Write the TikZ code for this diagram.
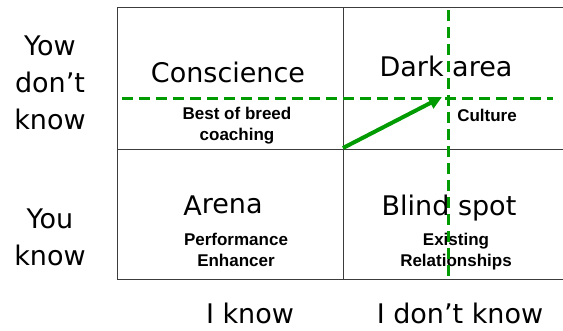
\documentclass[tikz,border=0pt]{standalone}
\usepackage{fontspec}
\setmainfont{DejaVu Sans}
\newfontfamily\notefont{Liberation Sans}
\usetikzlibrary{arrows.meta}
\definecolor{guidegreen}{RGB}{0,155,0}
\definecolor{gridgray}{RGB}{60,60,60}

\begin{document}
\begin{tikzpicture}[x = 1pt, y = -1pt, line width = 1pt,
  title/.style = {anchor = base, inner sep = 0pt, font = \fontsize{27}{27}\selectfont},
  note/.style = {anchor = base, inner sep = 0pt, align = center, font = \notefont\bfseries\fontsize{17}{21}\selectfont},
  side/.style = {anchor = base, inner sep = 0pt, align = center, font = \fontsize{27}{37}\selectfont},
  guide/.style = {guidegreen, line width = 3pt, dash pattern = on 11pt off 6pt}]
\useasboundingbox (0, 0) rectangle (563, 330);

% the grid
\draw[gridgray] (563, 7) -- (117, 7) -- (117, 279) -- (563, 279);
\draw[gridgray] (343, 7) -- (343, 279);
\draw[gridgray] (117, 149) -- (563, 149);

% quadrants (base = last line)
\node[title] (conscience) at (228, 82) {Conscience};
\node[title] (dark) at (446, 76) {Dark area};
\node[title] (arena) at (223, 213) {\raisebox{-2pt}{A}rena};
\node[title] (blind) at (449, 215) {Blind spot};

\node[note] (breed) at (237, 140) {Best of breed\\coaching};
\node[note] (culture) at (487, 121) {Culture};
\node[note] (perf) at (236, 266) {Performance\\Enhancer};
\node[note] (exist) at (456, 266) {Existing\\Relationships};

% axes
\node[side] (dontknow) at (50, 129) {Yow\\don’t\\know};
\node[side] (youknow) at (50, 265) {You\\know};
\node[title] (iknow) at (250, 323) {I know};
\node[title] (idontknow) at (460, 323) {I don’t know};

% guides
\draw[guide] (122, 98) -- (553, 98);
\draw[guide] (448, 10) -- (448, 279);

\coordinate (start) at (343, 148);
\coordinate (tip) at (442, 97);
\draw[guidegreen, line width = 4pt, -{Triangle[length = 13pt, width = 12pt]}] (start) -- (tip);

\end{tikzpicture}
\end{document}
